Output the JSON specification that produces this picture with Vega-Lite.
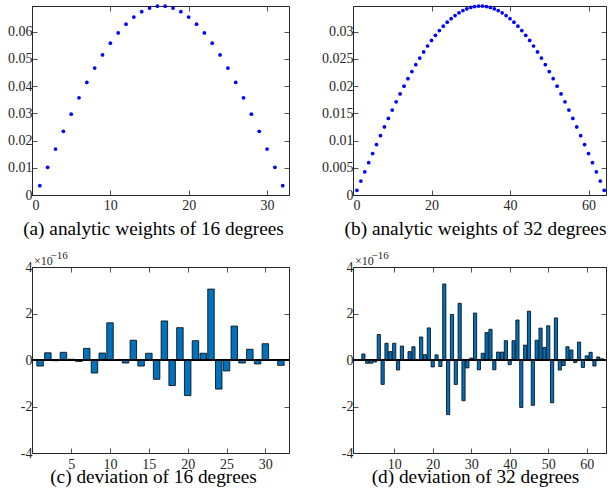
{
  "$schema": "https://vega.github.io/schema/vega-lite/v6.json",
  "padding": {"left": 7, "top": 2, "right": 0, "bottom": 0},
  "bounds": "flush",
  "columns": 2,
  "spacing": {"row": 72, "column": 64},
  "config": {
    "view": {"stroke": "#262626", "strokeWidth": 1},
    "axis": {
      "grid": false, "domain": false,
      "tickColor": "#262626", "tickSize": -5, "tickWidth": 0.8,
      "labelFont": "Liberation Serif", "labelFontSize": 14, "labelColor": "#262626",
      "titleFont": "Liberation Serif", "titleFontWeight": "normal", "titleColor": "#000000",
      "titleFontSize": 19.3, "titleAngle": 0, "titleAlign": "center", "titleBaseline": "alphabetic"
    }
  },
  "datasets": {
    "w16": [
      {"n":1,"w":0.00341},{"n":2,"w":0.01018},{"n":3,"w":0.01686},{"n":4,"w":0.02338},
      {"n":5,"w":0.02967},{"n":6,"w":0.03568},{"n":7,"w":0.04134},{"n":8,"w":0.04661},
      {"n":9,"w":0.05142},{"n":10,"w":0.05574},{"n":11,"w":0.05953},{"n":12,"w":0.06274},
      {"n":13,"w":0.06534},{"n":14,"w":0.06732},{"n":15,"w":0.06865},{"n":16,"w":0.06932},
      {"n":17,"w":0.06932},{"n":18,"w":0.06865},{"n":19,"w":0.06732},{"n":20,"w":0.06534},
      {"n":21,"w":0.06274},{"n":22,"w":0.05953},{"n":23,"w":0.05574},{"n":24,"w":0.05142},
      {"n":25,"w":0.04661},{"n":26,"w":0.04134},{"n":27,"w":0.03568},{"n":28,"w":0.02967},
      {"n":29,"w":0.02338},{"n":30,"w":0.01686},{"n":31,"w":0.01018},{"n":32,"w":0.00341}
    ],
    "w32": [
      {"n":1,"w":0.000852},{"n":2,"w":0.002553},{"n":3,"w":0.004248},{"n":4,"w":0.005932},
      {"n":5,"w":0.007603},{"n":6,"w":0.009255},{"n":7,"w":0.010885},{"n":8,"w":0.012488},
      {"n":9,"w":0.014062},{"n":10,"w":0.015602},{"n":11,"w":0.017104},{"n":12,"w":0.018564},
      {"n":13,"w":0.01998},{"n":14,"w":0.021349},{"n":15,"w":0.022665},{"n":16,"w":0.023927},
      {"n":17,"w":0.025131},{"n":18,"w":0.026275},{"n":19,"w":0.027356},{"n":20,"w":0.02837},
      {"n":21,"w":0.029316},{"n":22,"w":0.030192},{"n":23,"w":0.030995},{"n":24,"w":0.031723},
      {"n":25,"w":0.032375},{"n":26,"w":0.032948},{"n":27,"w":0.033443},{"n":28,"w":0.033857},
      {"n":29,"w":0.034189},{"n":30,"w":0.034439},{"n":31,"w":0.034606},{"n":32,"w":0.03469},
      {"n":33,"w":0.03469},{"n":34,"w":0.034606},{"n":35,"w":0.034439},{"n":36,"w":0.034189},
      {"n":37,"w":0.033857},{"n":38,"w":0.033443},{"n":39,"w":0.032948},{"n":40,"w":0.032375},
      {"n":41,"w":0.031723},{"n":42,"w":0.030995},{"n":43,"w":0.030192},{"n":44,"w":0.029316},
      {"n":45,"w":0.02837},{"n":46,"w":0.027356},{"n":47,"w":0.026275},{"n":48,"w":0.025131},
      {"n":49,"w":0.023927},{"n":50,"w":0.022665},{"n":51,"w":0.021349},{"n":52,"w":0.01998},
      {"n":53,"w":0.018564},{"n":54,"w":0.017104},{"n":55,"w":0.015602},{"n":56,"w":0.014062},
      {"n":57,"w":0.012488},{"n":58,"w":0.010885},{"n":59,"w":0.009255},{"n":60,"w":0.007603},
      {"n":61,"w":0.005932},{"n":62,"w":0.004248},{"n":63,"w":0.002553},{"n":64,"w":0.000852}
    ],
    "d16": [
      {"n":1,"dev":-0.26},{"n":2,"dev":0.31},{"n":3,"dev":-0.03},{"n":4,"dev":0.33},
      {"n":5,"dev":0.03},{"n":6,"dev":-0.06},{"n":7,"dev":0.5},{"n":8,"dev":-0.56},
      {"n":9,"dev":0.3},{"n":10,"dev":1.6},{"n":11,"dev":0},{"n":12,"dev":-0.13},
      {"n":13,"dev":0.85},{"n":14,"dev":-0.26},{"n":15,"dev":0.29},{"n":16,"dev":-0.83},
      {"n":17,"dev":1.68},{"n":18,"dev":-1.1},{"n":19,"dev":1.39},{"n":20,"dev":-1.53},
      {"n":21,"dev":0.83},{"n":22,"dev":0.29},{"n":23,"dev":3.05},{"n":24,"dev":-1.25},
      {"n":25,"dev":-0.47},{"n":26,"dev":1.46},{"n":27,"dev":-0.13},{"n":28,"dev":0.46},
      {"n":29,"dev":-0.17},{"n":30,"dev":0.7},{"n":31,"dev":0},{"n":32,"dev":-0.23}
    ],
    "d32": [
      {"n":1,"dev":0},{"n":2,"dev":0.26},{"n":3,"dev":-0.14},{"n":4,"dev":-0.14},
      {"n":5,"dev":-0.09},{"n":6,"dev":1.1},{"n":7,"dev":-1.05},{"n":8,"dev":0.72},
      {"n":9,"dev":0.36},{"n":10,"dev":0.72},{"n":11,"dev":-0.43},{"n":12,"dev":0.6},
      {"n":13,"dev":0.02},{"n":14,"dev":0.36},{"n":15,"dev":0.57},{"n":16,"dev":0.02},
      {"n":17,"dev":0.99},{"n":18,"dev":0.23},{"n":19,"dev":1.38},{"n":20,"dev":-0.3},
      {"n":21,"dev":0.22},{"n":22,"dev":-0.28},{"n":23,"dev":3.27},{"n":24,"dev":-2.35},
      {"n":25,"dev":1.96},{"n":26,"dev":-1.05},{"n":27,"dev":2.44},{"n":28,"dev":-1.75},
      {"n":29,"dev":-0.34},{"n":30,"dev":0.08},{"n":31,"dev":2.02},{"n":32,"dev":-0.42},
      {"n":33,"dev":0.29},{"n":34,"dev":1.18},{"n":35,"dev":1.32},{"n":36,"dev":-0.42},
      {"n":37,"dev":0.34},{"n":38,"dev":0.34},{"n":39,"dev":0.83},{"n":40,"dev":-0.2},
      {"n":41,"dev":0.83},{"n":42,"dev":1.72},{"n":43,"dev":-2.04},{"n":44,"dev":0.64},
      {"n":45,"dev":2.1},{"n":46,"dev":-1.95},{"n":47,"dev":0.85},{"n":48,"dev":1.37},
      {"n":49,"dev":0.54},{"n":50,"dev":1.47},{"n":51,"dev":-1.84},{"n":52,"dev":1.81},
      {"n":53,"dev":-0.43},{"n":54,"dev":-0.24},{"n":55,"dev":0.57},{"n":56,"dev":0.43},
      {"n":57,"dev":-0.11},{"n":58,"dev":0.77},{"n":59,"dev":-0.32},{"n":60,"dev":0.18},
      {"n":61,"dev":0.33},{"n":62,"dev":-0.26},{"n":63,"dev":0.13},{"n":64,"dev":0.05}
    ]
  },
  "concat": [
    {
      "width": 257, "height": 189,
      "data": {"name": "w16"},
      "layer": [
        {
          "mark": {"type": "circle", "color": "#0000FF", "size": 14, "opacity": 1},
          "encoding": {
            "x": {"field": "n", "type": "quantitative",
                  "scale": {"domain": [0, 32.8], "nice": false, "zero": false},
                  "axis": {"values": [0, 10, 20, 30], "labelPadding": 8,
                           "title": "(a) analytic weights of 16 degrees", "titleX": 121, "titleY": 39}},
            "y": {"field": "w", "type": "quantitative",
                  "scale": {"domain": [0, 0.0694], "nice": false},
                  "axis": {"values": [0, 0.01, 0.02, 0.03, 0.04, 0.05, 0.06], "format": "~g",
                           "labelPadding": 5, "title": null}}
          }
        },
        {
          "mark": {"type": "circle", "opacity": 0},
          "encoding": {
            "x": {"field": "n", "type": "quantitative",
                  "axis": {"orient": "top", "values": [0, 10, 20, 30], "labels": false, "title": null}},
            "y": {"field": "w", "type": "quantitative",
                  "axis": {"orient": "right", "values": [0, 0.01, 0.02, 0.03, 0.04, 0.05, 0.06],
                           "labels": false, "title": null}}
          }
        }
      ],
      "resolve": {"axis": {"x": "independent", "y": "independent"}}
    },
    {
      "width": 253, "height": 189,
      "data": {"name": "w32"},
      "layer": [
        {
          "mark": {"type": "circle", "color": "#0000FF", "size": 14, "opacity": 1},
          "encoding": {
            "x": {"field": "n", "type": "quantitative",
                  "scale": {"domain": [0, 64.45], "nice": false, "zero": false},
                  "axis": {"values": [0, 20, 40, 60], "labelPadding": 8,
                           "title": "(b) analytic weights of 32 degrees", "titleX": 122, "titleY": 39}},
            "y": {"field": "w", "type": "quantitative",
                  "scale": {"domain": [0, 0.0347], "nice": false},
                  "axis": {"values": [0, 0.005, 0.01, 0.015, 0.02, 0.025, 0.03], "format": "~g",
                           "labelPadding": 5, "title": null}}
          }
        },
        {
          "mark": {"type": "circle", "opacity": 0},
          "encoding": {
            "x": {"field": "n", "type": "quantitative",
                  "axis": {"orient": "top", "values": [0, 20, 40, 60], "labels": false, "title": null}},
            "y": {"field": "w", "type": "quantitative",
                  "axis": {"orient": "right", "values": [0, 0.005, 0.01, 0.015, 0.02, 0.025, 0.03],
                           "labels": false, "title": null}}
          }
        }
      ],
      "resolve": {"axis": {"x": "independent", "y": "independent"}}
    },
    {
      "width": 257, "height": 186,
      "data": {"name": "d16"},
      "layer": [
        {
          "mark": {"type": "bar", "orient": "vertical", "width": 6.5, "fill": "#0072BD",
                   "stroke": "#000000", "strokeWidth": 0.8},
          "encoding": {
            "x": {"field": "n", "type": "quantitative",
                  "scale": {"domain": [0.6, 32.4], "nice": false, "zero": false},
                  "axis": {"values": [5, 10, 15, 20, 25, 30], "labelPadding": 9,
                           "title": "(c) deviation of 16 degrees", "titleX": 121, "titleY": 29}},
            "y": {"field": "dev", "type": "quantitative",
                  "scale": {"domain": [-4, 4], "nice": false},
                  "axis": {"values": [-4, -2, 0, 2, 4], "labelExpr": "toString(datum.value)",
                           "labelPadding": 5, "title": "−16", "titleFontSize": 11,
                           "titleColor": "#262626", "titleAlign": "left",
                           "titleX": 18, "titleY": -9}}
          }
        },
        {
          "mark": {"type": "rule", "color": "#000000", "strokeWidth": 1},
          "encoding": {"y": {"datum": 0, "type": "quantitative", "axis": null}}
        },
        {
          "mark": {"type": "bar", "orient": "vertical", "width": 6.5, "opacity": 0},
          "encoding": {
            "x": {"field": "n", "type": "quantitative",
                  "axis": {"orient": "top", "values": [5, 10, 15, 20, 25, 30], "labels": false, "title": null}},
            "y": {"field": "dev", "type": "quantitative",
                  "axis": {"orient": "right", "values": [-4, -2, 0, 2, 4], "labels": false,
                           "title": "×10", "titleFontSize": 12, "titleColor": "#262626",
                           "titleAlign": "left", "titleX": -255.5, "titleY": -3}}
          }
        }
      ],
      "resolve": {"axis": {"x": "independent", "y": "independent"}}
    },
    {
      "width": 253, "height": 186,
      "data": {"name": "d32"},
      "layer": [
        {
          "mark": {"type": "bar", "orient": "vertical", "width": 3.2, "fill": "#0072BD",
                   "stroke": "#000000", "strokeWidth": 0.8, "clip": true},
          "encoding": {
            "x": {"field": "n", "type": "quantitative",
                  "scale": {"domain": [0.6, 63.7], "nice": false, "zero": false},
                  "axis": {"values": [10, 20, 30, 40, 50, 60], "labelPadding": 9,
                           "title": "(d) deviation of 32 degrees", "titleX": 122, "titleY": 29}},
            "y": {"field": "dev", "type": "quantitative",
                  "scale": {"domain": [-4, 4], "nice": false},
                  "axis": {"values": [-4, -2, 0, 2, 4], "labelExpr": "toString(datum.value)",
                           "labelPadding": 5, "title": "−16", "titleFontSize": 11,
                           "titleColor": "#262626", "titleAlign": "left",
                           "titleX": 18, "titleY": -9}}
          }
        },
        {
          "mark": {"type": "rule", "color": "#000000", "strokeWidth": 1},
          "encoding": {"y": {"datum": 0, "type": "quantitative", "axis": null}}
        },
        {
          "mark": {"type": "bar", "orient": "vertical", "width": 3.2, "opacity": 0, "clip": true},
          "encoding": {
            "x": {"field": "n", "type": "quantitative",
                  "axis": {"orient": "top", "values": [10, 20, 30, 40, 50, 60], "labels": false, "title": null}},
            "y": {"field": "dev", "type": "quantitative",
                  "axis": {"orient": "right", "values": [-4, -2, 0, 2, 4], "labels": false,
                           "title": "×10", "titleFontSize": 12, "titleColor": "#262626",
                           "titleAlign": "left", "titleX": -251.5, "titleY": -3}}
          }
        }
      ],
      "resolve": {"axis": {"x": "independent", "y": "independent"}}
    }
  ]
}
